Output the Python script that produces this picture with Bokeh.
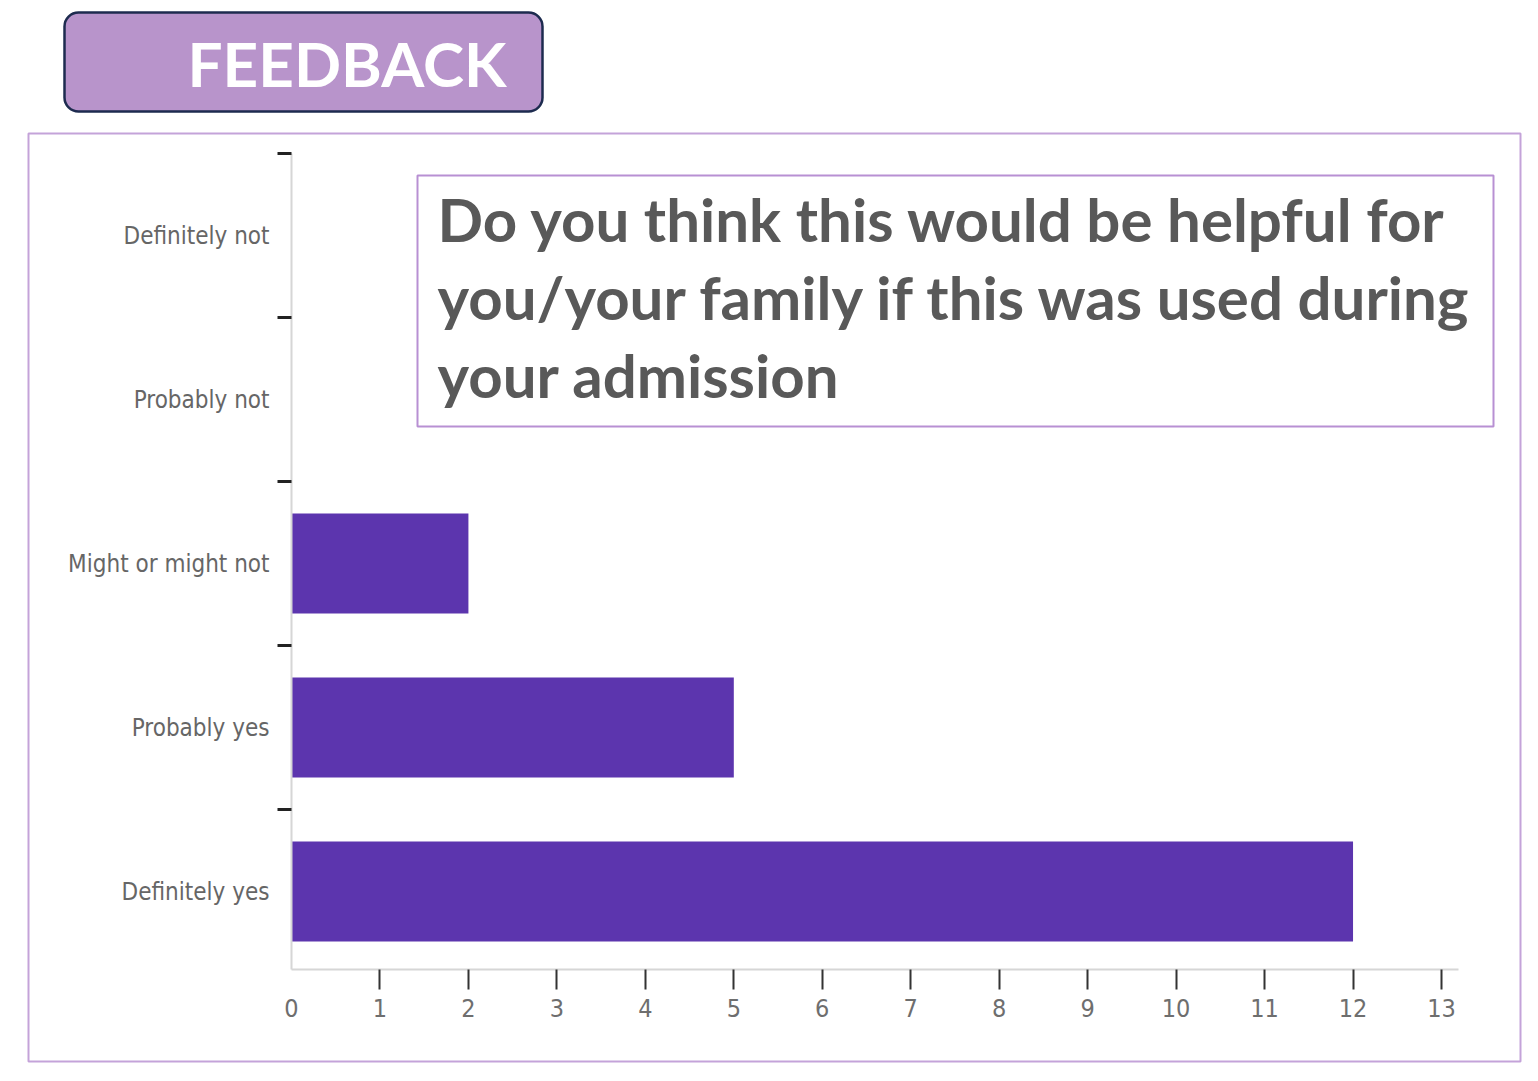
from bokeh.plotting import figure
from bokeh.models import Range1d, FixedTicker, BoxAnnotation, Label
from bokeh.embed import file_html
from bokeh.resources import INLINE

# ---- data ----
categories = ["Definitely yes", "Probably yes", "Might or might not", "Probably not", "Definitely not"]
counts = [12, 5, 2, 0, 0]
x_tick_values = list(range(0, 14))
title_text = "FEEDBACK"
question_lines = [
    "Do you think this would be helpful for",
    "you/your family if this was used during",
    "your admission",
]

# ---- layout constants (canvas px) ----
W, H = 1522, 1065
AX_LEFT, AX_TOP, AX_RIGHT, AX_BOTTOM = 291, 153, 1458, 969   # axes area
PX_PER_UNIT = 1150 / 13.0     # x pixels per count
BAND = 164.0                  # y pixels per category
NCAT = len(categories)

y_pos = [i + 0.5 for i in range(NCAT)]
y_bounds = [i + 1 for i in range(NCAT)]
y_axis_bottom = NCAT - (AX_BOTTOM - AX_TOP) / BAND
x_axis_end = (AX_RIGHT - AX_LEFT) / PX_PER_UNIT

p = figure(
    width=W, height=H, output_backend="svg", toolbar_location=None,
    x_range=Range1d(-AX_LEFT / PX_PER_UNIT, (W - AX_LEFT) / PX_PER_UNIT),
    y_range=Range1d(NCAT - (H - AX_TOP) / BAND, NCAT + AX_TOP / BAND),
    min_border=0,
)
p.title.visible = False
p.outline_line_color = None
p.xgrid.visible = False
p.ygrid.visible = False
p.background_fill_color = "white"
p.border_fill_color = "white"


def sx(px):
    return px


def sy(py):
    return H - py


def box(l, t, r, b, **kw):
    return BoxAnnotation(left=sx(l), right=sx(r), top=sy(t), bottom=sy(b),
                         left_units="screen", right_units="screen",
                         top_units="screen", bottom_units="screen", **kw)


# outer frame around the chart
p.add_layout(box(28, 133, 1520, 1061, fill_color=None, fill_alpha=0,
                 line_color="#c4a3d9", line_width=2, line_alpha=1, level="underlay"))

p.hbar(y=y_pos, left=0, right=counts, height=0.61, fill_color="#5c35ae", line_color=None)

TICK_FONT = "'Liberation Sans Narrow', 'Arial Narrow', 'DejaVu Sans Condensed', sans-serif"

xa = p.xaxis[0]
xa.fixed_location = y_axis_bottom
xa.bounds = (0, x_axis_end)
xa.ticker = FixedTicker(ticks=x_tick_values, minor_ticks=x_tick_values[1:])
xa.major_tick_line_color = None
xa.major_tick_out = 0
xa.major_tick_in = 0
xa.minor_tick_line_color = "#333333"
xa.minor_tick_line_width = 2
xa.minor_tick_out = 20
xa.minor_tick_in = 0
xa.axis_line_color = "#d6d6d6"
xa.axis_line_width = 2
xa.major_label_text_font = TICK_FONT
xa.major_label_text_font_size = "25px"
xa.major_label_text_color = "#6e6e6e"
xa.major_label_standoff = 9

ya = p.yaxis[0]
ya.fixed_location = 0
ya.bounds = (y_axis_bottom, NCAT)
ya.ticker = FixedTicker(ticks=y_pos, minor_ticks=y_bounds)
ya.major_label_overrides = {y: c for y, c in zip(y_pos, categories)}
ya.major_tick_line_color = None
ya.major_tick_out = 0
ya.major_tick_in = 0
ya.minor_tick_line_color = "#222222"
ya.minor_tick_line_width = 3
ya.minor_tick_out = 14
ya.minor_tick_in = 0
ya.axis_line_color = "#d6d6d6"
ya.axis_line_width = 2
ya.major_label_text_font = TICK_FONT
ya.major_label_text_font_size = "24px"
ya.major_label_text_color = "#666666"
ya.major_label_standoff = 8

# header box
p.add_layout(box(64, 12, 542, 111, fill_color="#b894cb", fill_alpha=1,
                 line_color="#1d2b4f", line_width=2.5, line_alpha=1, border_radius=14))
# question box
p.add_layout(box(417, 175, 1493, 426, fill_color="white", fill_alpha=1,
                 line_color="#b890d3", line_width=2, line_alpha=1))

p.add_layout(Label(x=sx(187), y=sy(62), x_units="screen", y_units="screen",
                   text=title_text, text_font="Lato", text_font_style="bold",
                   text_font_size="62px", text_color="white",
                   text_baseline="middle", text_align="left"))

line_centers = [218, 296, 374]
for line, cy in zip(question_lines, line_centers):
    p.add_layout(Label(x=sx(437), y=sy(cy), x_units="screen", y_units="screen",
                       text=line, text_font="Lato", text_font_style="bold",
                       text_font_size="60px", text_color="#595959",
                       text_baseline="middle", text_align="left"))

open("out.html", "w").write(file_html(p, INLINE))
